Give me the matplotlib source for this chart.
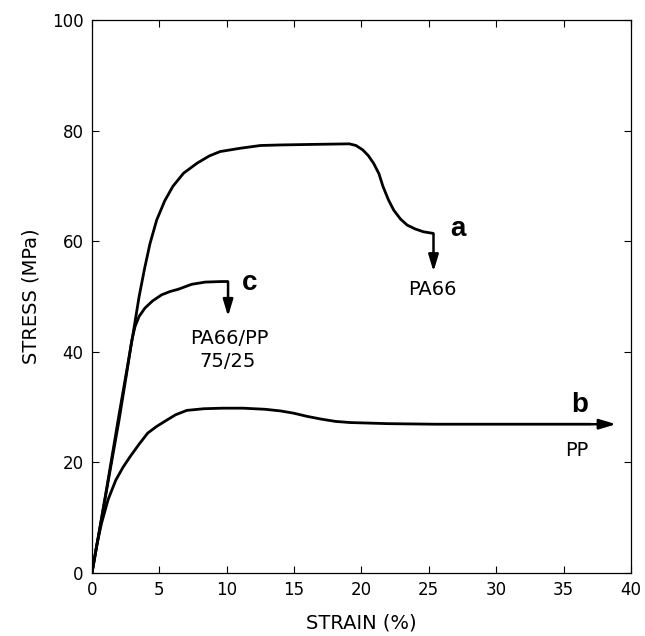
import matplotlib
matplotlib.use("Agg")
import matplotlib.pyplot as plt

plt.rcParams['font.family'] = ['DejaVu Sans']

# curve a: PA66
strain_a = [0, 1, 2, 3, 3.5, 3.9, 4.3, 4.8, 5.4, 6.0, 6.8, 7.8, 8.7, 9.5, 11.0,
            12.5, 14.0, 16.4, 19.1, 19.6, 20.1, 20.5, 20.9, 21.3, 21.6, 22.0,
            22.4, 22.9, 23.4, 24.0, 24.6, 25.35]
stress_a = [0, 14, 28.5, 42.5, 50, 55, 59.5, 63.8, 67.3, 69.9, 72.3, 74.1, 75.4,
            76.2, 76.8, 77.3, 77.4, 77.5, 77.6, 77.3, 76.5, 75.5, 74.1, 72.2,
            69.9, 67.5, 65.6, 64.0, 62.9, 62.2, 61.7, 61.4]

# curve b: PP
strain_b = [0, 0.35, 0.71, 1.2, 1.77, 2.3, 2.82, 3.5, 4.14, 4.8, 5.46, 6.2, 7.04,
            8.3, 9.68, 11.2, 12.85, 14.0, 14.96, 16.0, 17.07, 18.1, 19.18, 22.0,
            25.5, 30.0, 33.4, 37.0]
stress_b = [0, 5, 9.0, 13.3, 16.8, 19.1, 21.0, 23.3, 25.3, 26.5, 27.5, 28.6, 29.4,
            29.7, 29.8, 29.8, 29.6, 29.3, 28.9, 28.3, 27.8, 27.4, 27.2, 27.0,
            26.9, 26.9, 26.9, 26.9]

# curve c: PA66/PP 75/25
strain_c = [0, 1, 2, 2.6, 2.95, 3.2, 3.5, 3.93, 4.5, 5.17, 5.8, 6.4, 7.4, 8.4,
            9.6, 10.1]
stress_c = [0, 13.8, 27.5, 36.5, 42.0, 44.6, 46.4, 47.9, 49.2, 50.3, 50.9, 51.3,
            52.2, 52.6, 52.7, 52.7]

# break arrows (x, y_from, y_to) and b continuation (x_from, x_to, y)
break_a = (25.35, 61.4, 54.5)
break_c = (10.1, 52.7, 46.4)
end_b = (37.0, 38.9, 26.9)

fig = plt.figure(figsize=(6.45, 6.36), dpi=100)
ax = fig.add_axes([0.1426, 0.0991, 0.8355, 0.8695])

lw = 2.0
for xs, ys in [(strain_a, stress_a), (strain_b, stress_b), (strain_c, stress_c)]:
    ax.plot(xs, ys, color="black", linewidth=lw, solid_capstyle="butt",
            solid_joinstyle="round")

arrow_style = dict(arrowstyle="-|>,head_length=1.0,head_width=0.3",
                   color="black", linewidth=1.8, shrinkA=0, shrinkB=0)
ax.annotate("", xy=(break_a[0], break_a[2]), xytext=(break_a[0], break_a[1]),
            arrowprops=arrow_style)
ax.annotate("", xy=(break_c[0], break_c[2]), xytext=(break_c[0], break_c[1]),
            arrowprops=arrow_style)
ax.annotate("", xy=(end_b[1], end_b[2]), xytext=(end_b[0], end_b[2]),
            arrowprops=arrow_style)

# curve labels
bold = dict(fontsize=20, fontweight="bold", ha="center", va="center",
            family="Liberation Sans")
ax.text(27.2, 62.2, "a", **bold)
ax.text(36.2, 30.3, "b", **bold)
ax.text(11.7, 52.4, "c", **bold)
ax.text(25.3, 51.2, "PA66", fontsize=14, ha="center", va="center")
ax.text(36.0, 22.2, "PP", fontsize=14, ha="center", va="center")
ax.text(10.2, 42.4, "PA66/PP", fontsize=14, ha="center", va="center")
ax.text(10.1, 38.2, "75/25", fontsize=14, ha="center", va="center")

ax.set_xlim(0, 40)
ax.set_ylim(0, 100)
ax.set_xticks(range(0, 41, 5))
ax.set_yticks(range(0, 101, 20))
ax.tick_params(direction="in", length=5, width=0.8, top=True, right=True,
               labelsize=12, pad=6)
for s in ax.spines.values():
    s.set_linewidth(0.9)

ax.set_xlabel("STRAIN (%)", fontsize=14, labelpad=10)
ax.set_ylabel("STRESS (MPa)", fontsize=14, labelpad=8)

fig.savefig("out.png", dpi=100)
